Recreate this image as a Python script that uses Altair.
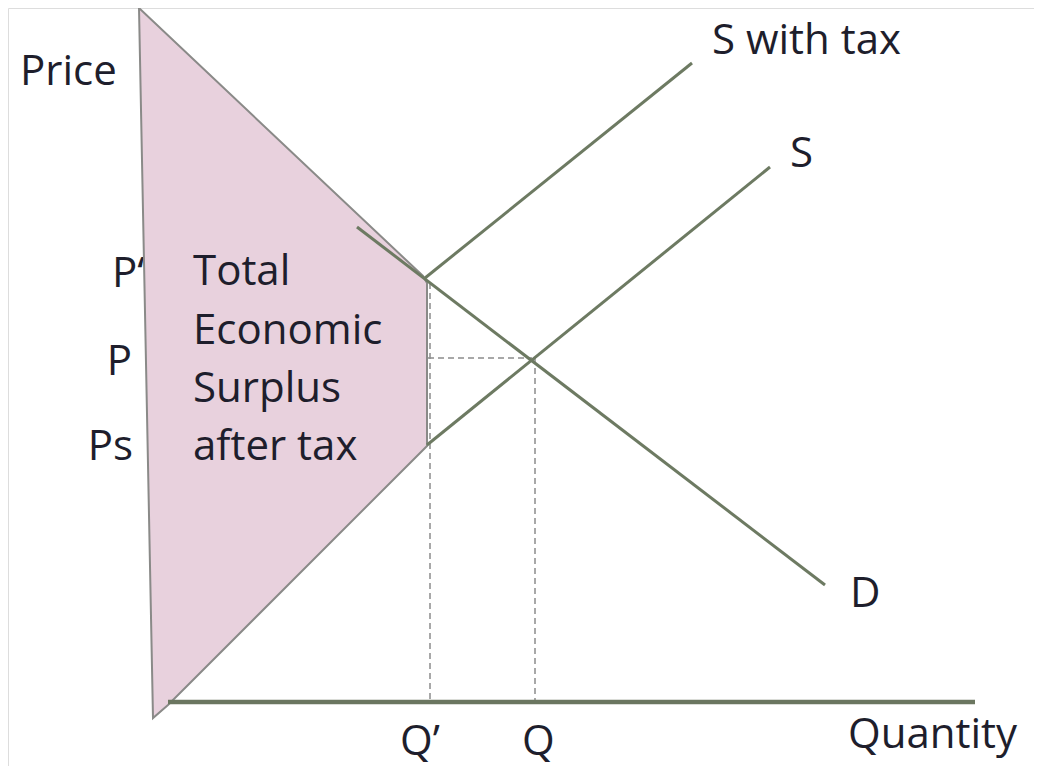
import altair as alt
import pandas as pd
import numpy as np

# Coordinates in "quantity / price" units (origin at the axes corner)
# Shaded polygon: left edge + right boundary
poly_left_q = [-16, -2]
poly_left_p = [694, -16]
poly_right_q = [-16, 268, 272, 272, 13, -2]
poly_right_p = [694, 426, 419, 256, -3, -16]

# Curves (segments): name, q1, p1, q2, p2
seg_names = ["D", "S", "S with tax"]
seg_q1 = [202, 272, 270]
seg_p1 = [475, 257, 424]
seg_q2 = [670, 615, 537]
seg_p2 = [117, 535, 639]

# Quantity axis line
axis_q = [13, 820]
axis_p = [0, 0]

# Dashed guides
dash_q1 = [273, 275, 380]
dash_p1 = [344, 419, 344]
dash_q2 = [377, 275, 380]
dash_p2 = [344, 0, 0]

# Labels
lab_text = ["Price", "S with tax", "S", "D", "Q\u2019", "Q", "Quantity",
            "Total", "Economic", "Surplus", "after tax"]
lab_q = [-135, 557, 635, 695, 245, 367, 693, 38, 38, 38, 38]
lab_p = [617, 648, 535, 95, -53, -53, -46, 417, 358, 300, 242]

side_text = ["P\u2018", "P", "Ps"]
side_q = [-43, -23, -22]
side_p = [415, 327, 242]
side_align = ["left", "right", "right"]

# ---- build tables ----
pr = np.array(poly_right_p, dtype=float)
lq = np.interp(pr, poly_left_p[::-1], poly_left_q[::-1])
poly_df = pd.DataFrame({"p": pr, "qa": lq, "qb": poly_right_q})

outline_q = [poly_left_q[0]] + poly_right_q[1:] + [poly_left_q[1], poly_left_q[0]]
outline_p = [poly_left_p[0]] + poly_right_p[1:] + [poly_left_p[1], poly_left_p[0]]
outline_df = pd.DataFrame({"q": outline_q, "p": outline_p, "o": range(len(outline_q))})

seg_df = pd.DataFrame({"name": seg_names, "q1": seg_q1, "p1": seg_p1, "q2": seg_q2, "p2": seg_p2})
axis_df = pd.DataFrame({"q1": [axis_q[0]], "q2": [axis_q[1]], "p1": [axis_p[0]], "p2": [axis_p[1]]})
dash_df = pd.DataFrame({"q1": dash_q1, "p1": dash_p1, "q2": dash_q2, "p2": dash_p2})
lab_df = pd.DataFrame({"t": lab_text, "q": lab_q, "p": lab_p})
side_df = pd.DataFrame({"t": side_text, "q": side_q, "p": side_p, "a": side_align})

xs = alt.Scale(domain=[-147, 879], nice=False, zero=False)
ys = alt.Scale(domain=[-64, 694], nice=False, zero=False)

FONT = "Open Sans"
TXT = "#1e1e2c"
LINE = "#6d7a62"

side_left = alt.Chart(side_df[side_df.a == "left"]).mark_text(
    font=FONT, fontSize=42, color=TXT, align="left", baseline="alphabetic"
).encode(x=alt.X("q:Q", scale=xs, axis=None), y=alt.Y("p:Q", scale=ys, axis=None), text="t:N")

side_right = alt.Chart(side_df[side_df.a == "right"]).mark_text(
    font=FONT, fontSize=42, color=TXT, align="right", baseline="alphabetic"
).encode(x=alt.X("q:Q", scale=xs, axis=None), y=alt.Y("p:Q", scale=ys, axis=None), text="t:N")

area = alt.Chart(poly_df).mark_area(color="#e8d1dd", orient="horizontal", opacity=1).encode(
    y=alt.Y("p:Q", scale=ys, axis=None),
    x=alt.X("qa:Q", scale=xs, axis=None),
    x2="qb:Q",
)

outline = alt.Chart(outline_df).mark_line(color="#8a8a88", strokeWidth=2).encode(
    x=alt.X("q:Q", scale=xs, axis=None),
    y=alt.Y("p:Q", scale=ys, axis=None),
    order="o:Q",
)

dashes = alt.Chart(dash_df).mark_rule(color="#8c8c8c", strokeWidth=1.5, strokeDash=[6, 4]).encode(
    x=alt.X("q1:Q", scale=xs, axis=None), x2="q2:Q",
    y=alt.Y("p1:Q", scale=ys, axis=None), y2="p2:Q",
)

segs = alt.Chart(seg_df).mark_rule(color=LINE, strokeWidth=3).encode(
    x=alt.X("q1:Q", scale=xs, axis=None), x2="q2:Q",
    y=alt.Y("p1:Q", scale=ys, axis=None), y2="p2:Q",
)

axis_line = alt.Chart(axis_df).mark_rule(color="#6b7660", strokeWidth=4.5).encode(
    x=alt.X("q1:Q", scale=xs, axis=None), x2="q2:Q",
    y=alt.Y("p1:Q", scale=ys, axis=None), y2="p2:Q",
)

labels = alt.Chart(lab_df).mark_text(
    font=FONT, fontSize=42, color=TXT, align="left", baseline="alphabetic"
).encode(x=alt.X("q:Q", scale=xs, axis=None), y=alt.Y("p:Q", scale=ys, axis=None), text="t:N")

chart = alt.layer(
    side_left, side_right, area, outline, dashes, segs, axis_line, labels
).properties(
    width=1026, height=758, padding=0, autosize=alt.AutoSizeParams(type="none")
).configure_view(stroke=None).configure(background="white")

chart.save("out.html", embed_options={"renderer": "svg", "actions": False})
